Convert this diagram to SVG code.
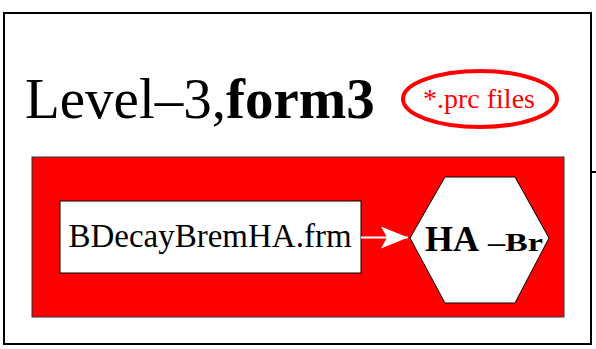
<svg xmlns="http://www.w3.org/2000/svg" width="596" height="349" viewBox="0 0 596 349">
  <defs>
    <style>
      .serif { font-family: "Liberation Serif", "Times New Roman", serif; }
      .frame { fill: #ffffff; stroke: #000000; stroke-width: 2; }
      .cluster { fill: #ff0000; stroke: #333333; stroke-width: 1; }
      .node { fill: #ffffff; stroke: #000000; stroke-width: 1; }
      .edge { stroke: #ffffff; stroke-width: 2; fill: none; }
    </style>
    <marker id="arrow" viewBox="0 0 28 22" refX="27" refY="11" markerWidth="28" markerHeight="22" markerUnits="userSpaceOnUse" orient="auto">
      <path d="M0,0 L27,11 L0,22 L6,11 Z" fill="#ffffff"/>
    </marker>
  </defs>

  <rect width="596" height="349" fill="#ffffff"/>

  <!-- outer level frame -->
  <g id="level3">
    <rect class="frame" x="4" y="13" width="587" height="331"/>
    <line x1="590" y1="172" x2="596" y2="172" stroke="#000000" stroke-width="2"/>
    <text class="serif" x="25" y="118" font-size="57" fill="#000000">Level–3,<tspan font-weight="bold">form3</tspan></text>
  </g>

  <!-- prc files note -->
  <g id="prc-files">
    <ellipse cx="480" cy="99" rx="77" ry="28" fill="none" stroke="#ff0000" stroke-width="4"/>
    <text class="serif" x="479" y="108" font-size="28" fill="#ff0000" text-anchor="middle">*.prc files</text>
  </g>

  <!-- red cluster -->
  <g id="cluster">
    <rect class="cluster" x="32" y="157" width="532" height="160"/>
  </g>

  <g id="frm-file">
    <rect class="node" x="60" y="201" width="301" height="72"/>
    <text class="serif" x="210" y="247" font-size="33" text-anchor="middle" fill="#000000">BDecayBremHA.frm</text>
  </g>

  <g id="ha-br">
    <polygon class="node" points="410,238 445,177 515,177 549,238 515,303 445,303"/>
    <text class="serif" x="425" y="251" font-weight="bold" font-size="36" fill="#000000">HA</text>
    <text class="serif" x="488" y="251" font-weight="bold" font-size="25" fill="#000000" textLength="55" lengthAdjust="spacingAndGlyphs">–Br</text>
  </g>

  <g id="connectors">
    <line class="edge" x1="361" y1="237.5" x2="408" y2="237.5" marker-end="url(#arrow)"/>
  </g>
</svg>
